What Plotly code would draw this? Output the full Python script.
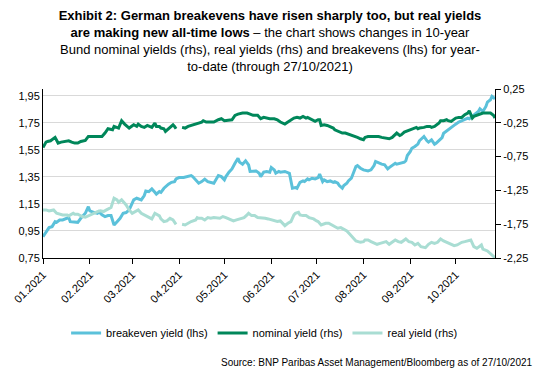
import plotly.graph_objects as go

# ---- data ----
be_dates = ["2021-01-01","2021-01-03","2021-01-05","2021-01-07","2021-01-09","2021-01-10","2021-01-12","2021-01-14",
            "2021-01-16","2021-01-18","2021-01-19","2021-01-22","2021-01-24","2021-01-26","2021-01-29","2021-01-31",
            "2021-02-01","2021-02-04","2021-02-06","2021-02-07","2021-02-09","2021-02-11","2021-02-13","2021-02-15",
            "2021-02-17","2021-02-19","2021-02-21","2021-02-23","2021-02-25","2021-02-27","2021-03-02","2021-03-04",
            "2021-03-07","2021-03-09","2021-03-10","2021-03-12","2021-03-14","2021-03-16","2021-03-17","2021-03-19",
            "2021-03-20","2021-03-22","2021-03-24","2021-03-25","2021-03-27","2021-03-29","2021-03-30","2021-04-01",
            "2021-04-04","2021-04-06","2021-04-09","2021-04-10","2021-04-12","2021-04-14","2021-04-16","2021-04-18",
            "2021-04-20","2021-04-23","2021-04-24","2021-04-27","2021-04-29","2021-05-01","2021-05-02","2021-05-04",
            "2021-05-06","2021-05-08","2021-05-10","2021-05-11","2021-05-13","2021-05-15","2021-05-17","2021-05-18",
            "2021-05-20","2021-05-22","2021-05-24","2021-05-25","2021-05-27","2021-05-29","2021-05-31","2021-06-01",
            "2021-06-03","2021-06-04","2021-06-06","2021-06-07","2021-06-10","2021-06-12","2021-06-13","2021-06-15",
            "2021-06-17","2021-06-18","2021-06-20","2021-06-22","2021-06-23","2021-06-25","2021-06-26","2021-06-28",
            "2021-06-30","2021-07-02","2021-07-03","2021-07-05","2021-07-06","2021-07-08","2021-07-10","2021-07-12",
            "2021-07-13","2021-07-15","2021-07-16","2021-07-18","2021-07-19","2021-07-21","2021-07-22","2021-07-24",
            "2021-07-25","2021-07-27","2021-07-28","2021-07-30","2021-08-01","2021-08-03","2021-08-04","2021-08-06",
            "2021-08-08","2021-08-09","2021-08-11","2021-08-13","2021-08-15","2021-08-17","2021-08-18","2021-08-20",
            "2021-08-22","2021-08-23","2021-08-25","2021-08-28","2021-08-29","2021-08-30","2021-09-01","2021-09-02",
            "2021-09-04","2021-09-06","2021-09-07","2021-09-09","2021-09-10","2021-09-12","2021-09-13","2021-09-15",
            "2021-09-17","2021-09-18","2021-09-20","2021-09-22","2021-09-23","2021-09-25","2021-09-27","2021-09-28",
            "2021-09-30","2021-10-01","2021-10-03","2021-10-05","2021-10-07","2021-10-09","2021-10-10","2021-10-12",
            "2021-10-14","2021-10-16","2021-10-17","2021-10-19","2021-10-21","2021-10-22","2021-10-24","2021-10-25",
            "2021-10-27"]
be_vals = [0.908,0.945,0.975,0.982,1.019,1.014,1.031,1.031,
           1.039,1.049,1.019,1.014,1.014,1.044,1.081,1.130,
           1.098,1.086,1.081,1.093,1.069,1.056,1.064,1.064,
           0.994,1.019,1.044,1.081,1.086,1.106,1.180,1.192,
           1.180,1.212,1.246,1.241,1.261,1.236,1.222,1.241,
           1.236,1.266,1.291,1.296,1.310,1.315,1.335,1.345,
           1.345,1.352,1.360,1.352,1.328,1.303,1.315,1.333,
           1.315,1.310,1.303,1.360,1.352,1.328,1.352,1.385,
           1.409,1.451,1.488,1.459,1.444,1.469,1.439,1.390,
           1.394,1.394,1.377,1.352,1.385,1.390,1.385,1.419,
           1.402,1.377,1.390,1.385,1.390,1.385,1.377,1.266,
           1.271,1.266,1.310,1.320,1.315,1.335,1.328,1.340,
           1.335,1.345,1.370,1.315,1.328,1.315,1.320,1.310,
           1.315,1.303,1.286,1.266,1.286,1.303,1.320,1.340,
           1.370,1.427,1.434,1.414,1.402,1.394,1.394,1.402,
           1.434,1.464,1.451,1.444,1.439,1.409,1.419,1.434,
           1.451,1.444,1.451,1.459,1.469,1.508,1.538,1.562,
           1.575,1.592,1.617,1.636,1.649,1.617,1.607,1.624,
           1.592,1.599,1.617,1.641,1.673,1.691,1.706,1.715,
           1.730,1.740,1.755,1.765,1.772,1.785,1.780,1.797,
           1.814,1.834,1.854,1.834,1.871,1.903,1.920,1.945,
           1.928]

nom_dates = ["2021-01-01","2021-01-03","2021-01-04","2021-01-06","2021-01-09","2021-01-11","2021-01-13","2021-01-15",
             "2021-01-18","2021-01-20","2021-01-22","2021-01-24","2021-01-26","2021-01-29","2021-01-31","2021-02-03",
             "2021-02-06","2021-02-09","2021-02-11","2021-02-13","2021-02-16","2021-02-17","2021-02-20","2021-02-22",
             "2021-02-24","2021-02-27","2021-03-02","2021-03-04","2021-03-05","2021-03-07","2021-03-09","2021-03-11",
             "2021-03-14","2021-03-16","2021-03-17","2021-03-19","2021-03-20","2021-03-22","2021-03-23","2021-03-25",
             "2021-03-26","2021-03-28","2021-03-29","2021-03-30","2021-04-01","2021-04-03","2021-04-05","2021-04-07",
             "2021-04-09","2021-04-12","2021-04-14","2021-04-16","2021-04-17","2021-04-19","2021-04-21","2021-04-24",
             "2021-04-27","2021-04-29","2021-05-01","2021-05-03","2021-05-06","2021-05-08","2021-05-10","2021-05-13",
             "2021-05-16","2021-05-18","2021-05-20","2021-05-23","2021-05-25","2021-05-27","2021-05-29","2021-05-31",
             "2021-06-03","2021-06-05","2021-06-07","2021-06-10","2021-06-12","2021-06-14","2021-06-16","2021-06-18",
             "2021-06-20","2021-06-22","2021-06-24","2021-06-25","2021-06-27","2021-06-29","2021-06-30","2021-07-02",
             "2021-07-03","2021-07-04","2021-07-06","2021-07-08","2021-07-10","2021-07-12","2021-07-13","2021-07-16",
             "2021-07-18","2021-07-20","2021-07-22","2021-07-24","2021-07-26","2021-07-28","2021-07-30","2021-08-01",
             "2021-08-02","2021-08-04","2021-08-06","2021-08-08","2021-08-11","2021-08-13","2021-08-15","2021-08-17",
             "2021-08-18","2021-08-20","2021-08-22","2021-08-23","2021-08-25","2021-08-26","2021-08-28","2021-08-30",
             "2021-09-01","2021-09-03","2021-09-05","2021-09-06","2021-09-07","2021-09-10","2021-09-12","2021-09-14",
             "2021-09-15","2021-09-17","2021-09-19","2021-09-20","2021-09-21","2021-09-23","2021-09-25","2021-09-26",
             "2021-09-28","2021-09-30","2021-10-01","2021-10-03","2021-10-05","2021-10-07","2021-10-09","2021-10-10",
             "2021-10-12","2021-10-13","2021-10-16","2021-10-18","2021-10-19","2021-10-22","2021-10-24","2021-10-26",
             "2021-10-27"]
nom_vals = [-0.615,-0.536,-0.526,-0.516,-0.466,-0.550,-0.536,-0.526,
            -0.516,-0.536,-0.550,-0.550,-0.526,-0.511,-0.452,-0.452,
            -0.452,-0.452,-0.402,-0.338,-0.353,-0.303,-0.328,-0.219,
            -0.269,-0.328,-0.279,-0.303,-0.269,-0.303,-0.318,-0.289,
            -0.318,-0.254,-0.303,-0.303,-0.328,-0.338,-0.377,-0.343,
            -0.318,-0.279,-0.303,-0.338,None,-0.318,-0.328,-0.303,
            -0.289,-0.269,-0.254,-0.239,-0.219,-0.239,-0.239,-0.239,
            -0.205,-0.190,-0.219,-0.210,-0.205,-0.140,-0.121,-0.106,
            -0.106,-0.121,-0.140,-0.140,-0.190,-0.170,-0.180,-0.190,
            -0.190,-0.205,-0.239,-0.269,-0.239,-0.205,-0.180,-0.170,
            -0.180,-0.155,-0.180,-0.170,-0.190,-0.219,-0.229,-0.205,
            -0.205,-0.289,-0.279,-0.289,-0.303,-0.328,-0.353,-0.377,
            -0.402,-0.402,-0.417,-0.427,-0.452,-0.466,-0.486,-0.501,
            -0.466,-0.452,-0.452,-0.452,-0.452,-0.466,-0.476,-0.476,
            -0.486,-0.466,-0.417,-0.402,-0.437,-0.427,-0.387,-0.368,
            -0.353,-0.338,-0.318,-0.338,-0.328,-0.318,-0.303,-0.303,
            -0.318,-0.303,-0.269,-0.254,-0.219,-0.219,-0.205,-0.219,
            -0.229,-0.190,-0.180,-0.170,-0.170,-0.130,-0.106,-0.071,
            -0.180,-0.155,-0.130,-0.121,-0.106,-0.106,-0.106,-0.140,
            -0.180]

real_dates = ["2021-01-01","2021-01-03","2021-01-05","2021-01-08","2021-01-10","2021-01-12","2021-01-14","2021-01-17",
              "2021-01-18","2021-01-21","2021-01-22","2021-01-24","2021-01-27","2021-01-29","2021-01-31","2021-02-03",
              "2021-02-06","2021-02-08","2021-02-10","2021-02-12","2021-02-13","2021-02-15","2021-02-17","2021-02-19",
              "2021-02-20","2021-02-22","2021-02-25","2021-02-27","2021-03-01","2021-03-03","2021-03-05","2021-03-07",
              "2021-03-09","2021-03-11","2021-03-14","2021-03-16","2021-03-18","2021-03-19","2021-03-20","2021-03-22",
              "2021-03-24","2021-03-26","2021-03-28","2021-03-30","2021-04-01","2021-04-03","2021-04-05","2021-04-07",
              "2021-04-09","2021-04-12","2021-04-13","2021-04-14","2021-04-16","2021-04-18","2021-04-20","2021-04-22",
              "2021-04-24","2021-04-28","2021-04-30","2021-05-02","2021-05-04","2021-05-07","2021-05-09","2021-05-12",
              "2021-05-14","2021-05-16","2021-05-17","2021-05-19","2021-05-21","2021-05-23","2021-05-26","2021-05-28",
              "2021-05-30","2021-06-01","2021-06-03","2021-06-05","2021-06-07","2021-06-10","2021-06-12","2021-06-14",
              "2021-06-16","2021-06-17","2021-06-19","2021-06-20","2021-06-22","2021-06-24","2021-06-26","2021-06-29",
              "2021-07-01","2021-07-02","2021-07-04","2021-07-05","2021-07-07","2021-07-09","2021-07-11","2021-07-13",
              "2021-07-15","2021-07-17","2021-07-19","2021-07-21","2021-07-23","2021-07-25","2021-07-27","2021-07-30",
              "2021-08-01","2021-08-02","2021-08-04","2021-08-06","2021-08-08","2021-08-10","2021-08-12","2021-08-16",
              "2021-08-18","2021-08-20","2021-08-22","2021-08-24","2021-08-26","2021-08-29","2021-08-31","2021-09-02",
              "2021-09-04","2021-09-06","2021-09-08","2021-09-11","2021-09-13","2021-09-15","2021-09-17","2021-09-19",
              "2021-09-21","2021-09-23","2021-09-25","2021-09-28","2021-09-30","2021-10-02","2021-10-05","2021-10-07",
              "2021-10-09","2021-10-11","2021-10-13","2021-10-15","2021-10-18","2021-10-19","2021-10-22","2021-10-24",
              "2021-10-25","2021-10-27"]
real_vals = [-1.539,-1.539,-1.553,-1.539,-1.588,-1.603,-1.613,-1.613,
             -1.627,-1.588,-1.603,-1.603,-1.637,-1.647,-1.627,-1.588,
             -1.563,-1.553,-1.563,-1.539,-1.524,-1.504,-1.366,-1.390,
             -1.425,-1.390,-1.464,-1.539,-1.588,-1.563,-1.539,-1.588,
             -1.613,-1.637,-1.672,-1.588,-1.613,-1.627,-1.672,-1.711,
             -1.702,-1.662,-1.687,-1.751,None,-1.751,-1.761,-1.736,
             -1.711,-1.687,-1.652,-1.662,-1.662,-1.687,-1.652,-1.662,
             -1.652,-1.662,-1.637,-1.652,-1.672,-1.702,-1.687,-1.662,
             -1.652,-1.613,-1.588,-1.623,-1.623,-1.652,-1.652,-1.662,
             -1.672,-1.687,-1.702,-1.711,-1.702,-1.771,-1.736,-1.711,
             -1.613,-1.588,-1.573,-1.613,-1.623,-1.623,-1.652,-1.672,
             -1.702,-1.711,-1.761,-1.751,-1.736,-1.736,-1.761,-1.786,
             -1.810,-1.800,-1.820,-1.850,-1.899,-1.949,-1.998,-2.018,
             -2.008,-1.983,-1.983,-2.008,-2.033,-2.047,-2.033,-2.008,
             -2.047,-2.018,-1.983,-2.008,-2.018,-1.968,-2.008,-2.018,
             -2.057,-2.033,-2.082,-2.097,-2.047,-2.018,-2.033,-2.018,
             -1.968,-1.998,-2.018,-2.047,-2.067,-2.057,-2.018,-2.008,
             -1.998,-1.983,-2.082,-2.107,-2.057,-2.117,-2.146,-2.181,
             -2.206,-2.245]

series_names = ["breakeven yield (lhs)", "nominal yield (rhs)", "real yield (rhs)"]
left_ticks = [0.75, 0.95, 1.15, 1.35, 1.55, 1.75, 1.95]
left_labels = ["0,75", "0,95", "1,15", "1,35", "1,55", "1,75", "1,95"]
right_ticks = [0.25, -0.25, -0.75, -1.25, -1.75, -2.25]
right_labels = ["0,25", "-0,25", "-0,75", "-1,25", "-1,75", "-2,25"]

title_html = ("<b>Exhibit 2: German breakevens have risen sharply too, but real yields</b><br>"
              "<b>are making new all-time lows</b> – the chart shows changes in 10-year<br>"
              "Bund nominal yields (rhs), real yields (rhs) and breakevens (lhs) for year-<br>"
              "to-date (through 27/10/2021)")
source_text = "Source: BNP Paribas Asset Management/Bloomberg as of 27/10/2021"

C_BE = "#5BC1DA"
C_NOM = "#00875A"
C_REAL = "#A9DDD3"

fig = go.Figure()
fig.add_trace(go.Scatter(x=be_dates, y=be_vals, name=series_names[0], mode="lines",
                         line=dict(color=C_BE, width=3), yaxis="y"))
fig.add_trace(go.Scatter(x=nom_dates, y=nom_vals, name=series_names[1], mode="lines",
                         line=dict(color=C_NOM, width=3), yaxis="y2", connectgaps=False))
fig.add_trace(go.Scatter(x=real_dates, y=real_vals, name=series_names[2], mode="lines",
                         line=dict(color=C_REAL, width=3), yaxis="y2", connectgaps=False))

FONT = "Liberation Sans, Arial, sans-serif"
fig.update_layout(
    width=540, height=372,
    margin=dict(l=37, r=43, t=89, b=114),
    paper_bgcolor="white", plot_bgcolor="white",
    font=dict(family=FONT, size=11, color="#000000"),
    title=dict(text=title_html, x=0.5, xref="container", xanchor="center",
               y=0.946, yref="container", yanchor="top",
               font=dict(family=FONT, size=13, color="#000000")),
    xaxis=dict(type="date", range=["2021-01-01", "2021-10-27"], tickformat="%m.%Y",
               dtick="M1", tick0="2021-01-01", tickangle=-45, ticks="outside", ticklen=5,
               tickcolor="#000000", showline=True, linecolor="#000000", linewidth=1,
               showgrid=False, zeroline=False, tickfont=dict(size=11, color="#000000")),
    yaxis=dict(range=[0.75, 2.0], tickvals=left_ticks, ticktext=left_labels,
               showgrid=True, gridcolor="#D9D9D9", gridwidth=1, showline=True,
               linecolor="#000000", linewidth=1, ticks="", zeroline=False,
               tickfont=dict(size=11, color="#000000")),
    yaxis2=dict(range=[-2.25, 0.25], tickvals=right_ticks, ticktext=right_labels,
                overlaying="y", side="right", showgrid=False, showline=True,
                linecolor="#000000", linewidth=1, ticks="outside", ticklen=5,
                tickcolor="#000000", zeroline=False, tickfont=dict(size=11, color="#000000")),
    legend=dict(orientation="h", xref="container", x=0.49, xanchor="center",
                yref="container", y=1 - 333 / 372, yanchor="middle",
                font=dict(size=11, color="#000000"), bgcolor="rgba(0,0,0,0)"),
    showlegend=True,
)
fig.add_annotation(text=source_text, xref="paper", yref="paper",
                   x=(538 - 37) / 460, y=(258 - 362) / 169, xanchor="right", yanchor="middle",
                   showarrow=False, font=dict(family=FONT, size=10, color="#000000"))

fig.write_html("out.html")
